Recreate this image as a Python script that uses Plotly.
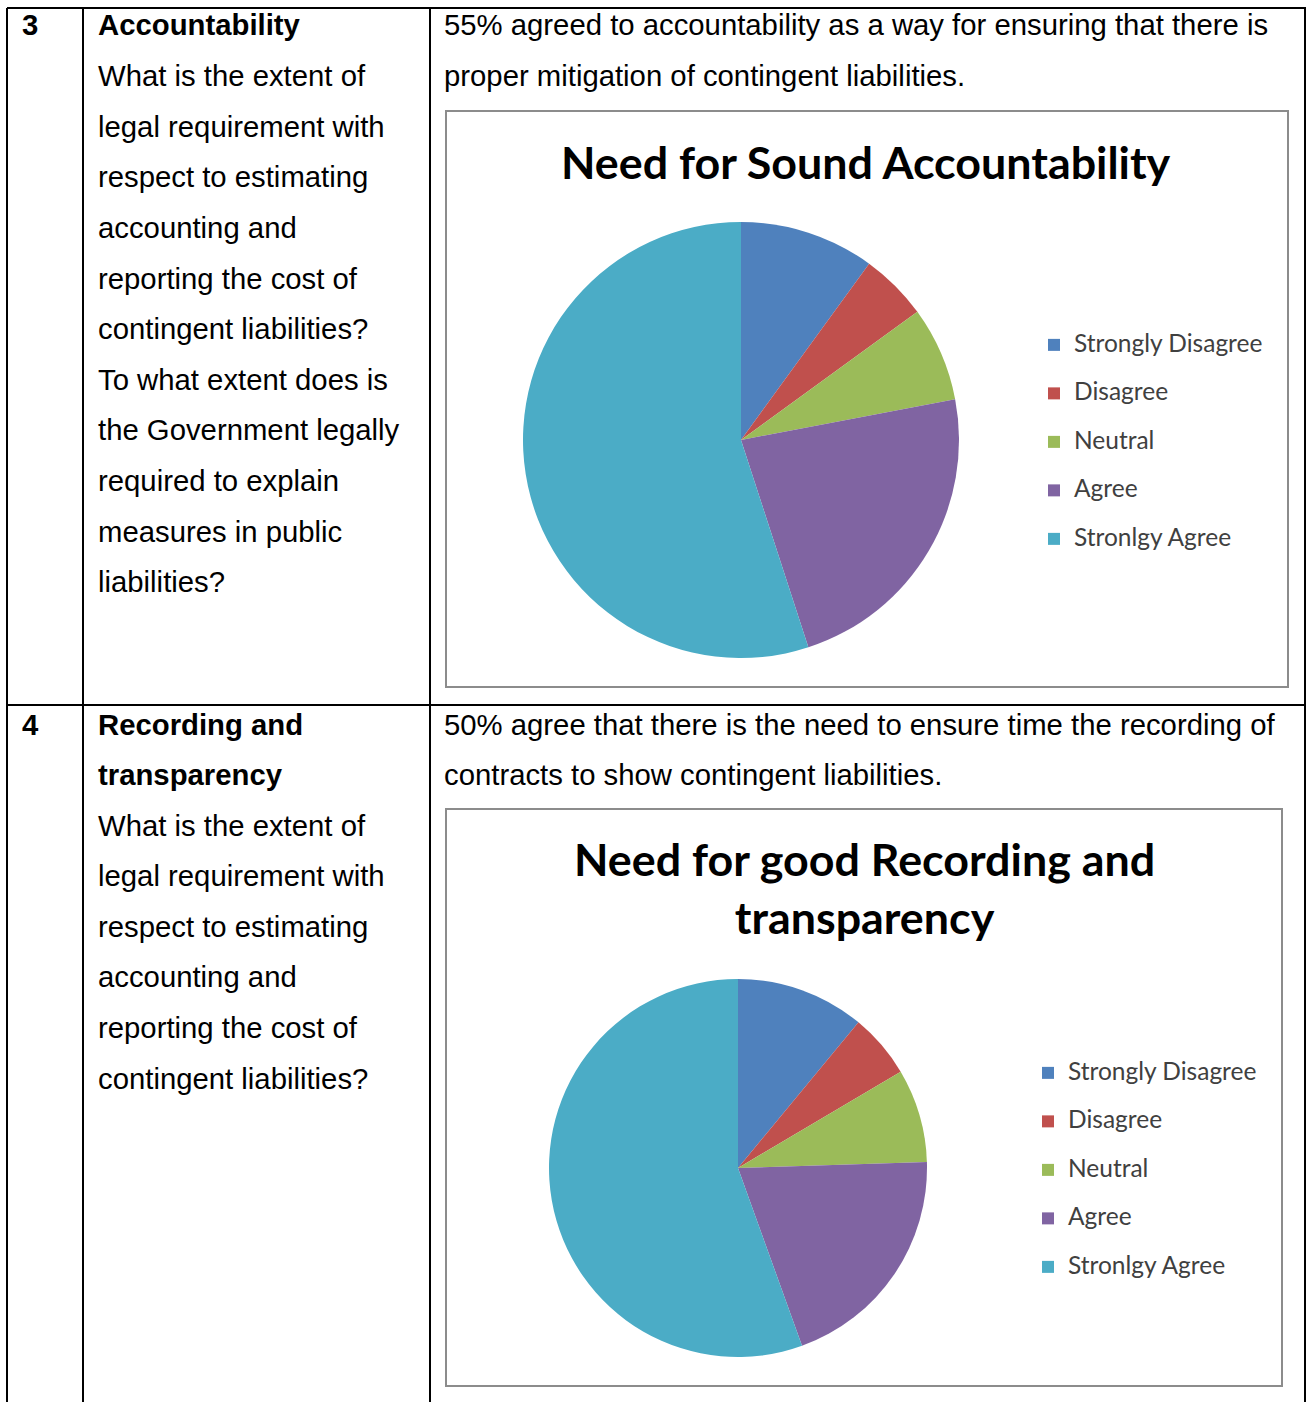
import plotly.graph_objects as go

# ---------------- data ----------------
categories = ["Strongly Disagree", "Disagree", "Neutral", "Agree", "Stronlgy Agree"]
accountability_values = [10, 5, 7, 23, 55]
recording_values = [11, 5.5, 8, 20, 55.5]
slice_colors = ["#4F81BD", "#C0504D", "#9BBB59", "#8064A2", "#4BACC6"]

chart1_title = "Need for Sound Accountability"
chart2_title = "Need for good Recording and<br>transparency"

row_numbers = ["3", "4"]
row1_question = ["<b>Accountability</b>", "What is the extent of", "legal requirement with",
                 "respect to estimating", "accounting and", "reporting the cost of",
                 "contingent liabilities?", "To what extent does is", "the Government legally",
                 "required to explain", "measures in public", "liabilities?"]
row2_question = ["<b>Recording and</b>", "<b>transparency</b>", "What is the extent of",
                 "legal requirement with", "respect to estimating", "accounting and",
                 "reporting the cost of", "contingent liabilities?"]
row1_finding = ["55% agreed to accountability as a way for ensuring that there is",
                "proper mitigation of contingent liabilities."]
row2_finding = ["50% agree that there is the need to ensure time the recording of",
                "contracts to show contingent liabilities."]

# ---------------- layout helpers ----------------
W, H = 1307, 1402
def px(x):
    return x / W
def py(y):
    return 1 - y / H

BODY_FONT = dict(family="Liberation Sans, Arial, sans-serif", size=29.3, color="#000000")
LINE_STEP = 50.6

def legend_label(s, style_tail=""):
    # larger visible text on first line, blank second line to space the entries like the original
    return f"<span style='font-size:24.5px{style_tail}'>{s}</span><br>\u00a0"

fig = go.Figure()

fig.add_trace(go.Pie(
    labels=[legend_label(c) for c in categories], values=accountability_values,
    marker=dict(colors=slice_colors, line=dict(width=0)),
    sort=False, direction="clockwise", rotation=0,
    textinfo="none", hoverinfo="percent",
    domain=dict(x=[px(523), px(959)], y=[py(658), py(222)]),
    legend="legend",
))
fig.add_trace(go.Pie(
    labels=[legend_label(c, ";") for c in categories], values=recording_values,
    marker=dict(colors=slice_colors, line=dict(width=0)),
    sort=False, direction="clockwise", rotation=0,
    textinfo="none", hoverinfo="percent",
    domain=dict(x=[px(549), px(927)], y=[py(1357), py(979)]),
    legend="legend2",
))

shapes = []
line_style = dict(color="#000000", width=2)
# table grid
for y in (8, 705):
    shapes.append(dict(type="line", xref="paper", yref="paper", x0=px(7), x1=px(1306),
                       y0=py(y), y1=py(y), line=line_style))
for x in (7, 83, 430, 1305):
    shapes.append(dict(type="line", xref="paper", yref="paper", x0=px(x), x1=px(x),
                       y0=py(8), y1=py(1402), line=line_style))
# chart frames
frame_style = dict(color="#8C8C8C", width=2)
shapes.append(dict(type="rect", xref="paper", yref="paper", x0=px(446), x1=px(1288),
                   y0=py(687), y1=py(111), line=frame_style))
shapes.append(dict(type="rect", xref="paper", yref="paper", x0=px(446), x1=px(1282),
                   y0=py(1386), y1=py(809), line=frame_style))

annotations = []
def add_text(text, x, y, font=BODY_FONT, xanchor="left"):
    annotations.append(dict(text=text, x=px(x), y=py(y), xref="paper", yref="paper",
                            xanchor=xanchor, yanchor="middle", showarrow=False,
                            font=font, align="left"))

add_text("<b>" + row_numbers[0] + "</b>", 20, 25)
add_text("<b>" + row_numbers[1] + "</b>", 20, 724)
for i, t in enumerate(row1_question):
    add_text(t, 96, 25 + i * LINE_STEP)
for i, t in enumerate(row2_question):
    add_text(t, 96, 724 + i * LINE_STEP)
for i, t in enumerate(row1_finding):
    add_text(t, 442, 25 + i * LINE_STEP)
for i, t in enumerate(row2_finding):
    add_text(t, 442, 724 + i * LINE_STEP)

TITLE_FONT = dict(family="Lato, Open Sans, sans-serif", size=44.8, color="#000000")
annotations.append(dict(text=f"<b>{chart1_title}</b>", x=px(866), y=py(162), xref="paper",
                        yref="paper", xanchor="center", yanchor="middle", showarrow=False,
                        font=TITLE_FONT))
annotations.append(dict(text=f"<b>{chart2_title}</b>", x=px(864), y=py(888), xref="paper",
                        yref="paper", xanchor="center", yanchor="middle", showarrow=False,
                        font=TITLE_FONT))

legend_common = dict(font=dict(family="Lato, sans-serif", size=17.5, color="#404040"),
                     bgcolor="rgba(0,0,0,0)", borderwidth=0, xanchor="left", yanchor="top",
                     orientation="v", valign="top", itemclick=False, itemdoubleclick=False)

fig.update_layout(
    width=W, height=H,
    margin=dict(l=0, r=0, t=0, b=0),
    paper_bgcolor="#FFFFFF", plot_bgcolor="#FFFFFF",
    shapes=shapes, annotations=annotations,
    showlegend=True,
    legend=dict(x=px(1034), y=py(327), **legend_common),
    legend2=dict(x=px(1028), y=py(1055), **legend_common),
)

fig.write_html("out.html", config={"displayModeBar": False})
